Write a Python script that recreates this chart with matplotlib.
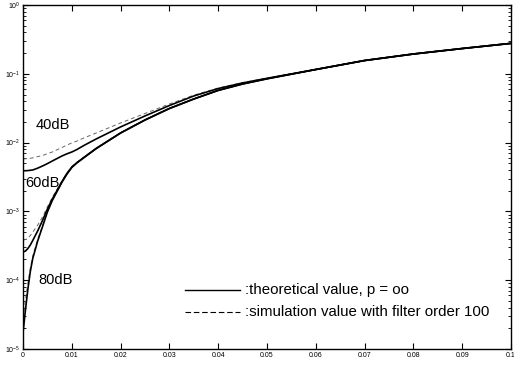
import matplotlib
matplotlib.use("Agg")
import matplotlib.pyplot as plt
import numpy as np
from matplotlib.ticker import LogLocator, FixedLocator, NullFormatter

# x grid (shared by all curves)
x = [0, 0.0005, 0.001, 0.0015, 0.002, 0.003, 0.004, 0.005, 0.006, 0.008, 0.009,
     0.01, 0.011, 0.0125, 0.015, 0.02, 0.025, 0.03, 0.035, 0.04, 0.045, 0.05,
     0.06, 0.07, 0.08, 0.09, 0.1]

# common tail (x >= 0.06)
tail = [0.1155, 0.156, 0.194, 0.233, 0.277]

theo_40 = [3.9e-3, 3.9e-3, 3.92e-3, 3.96e-3, 4.0e-3, 4.25e-3, 4.57e-3, 4.95e-3, 5.4e-3, 6.4e-3, 6.87e-3,
           7.3e-3, 7.9e-3, 9.1e-3, 1.13e-2, 1.69e-2, 2.44e-2, 3.46e-2, 4.76e-2, 6.11e-2, 7.36e-2, 8.6e-2] + tail
sim_40 = [5.8e-3, 5.82e-3, 5.86e-3, 5.92e-3, 6.0e-3, 6.25e-3, 6.5e-3, 6.9e-3, 7.3e-3, 8.5e-3, 9.2e-3,
          9.9e-3, 1.05e-2, 1.17e-2, 1.38e-2, 1.93e-2, 2.65e-2, 3.64e-2, 4.9e-2, 6.2e-2, 7.45e-2, 8.65e-2] + tail
theo_60 = [2.57e-4, 2.65e-4, 2.89e-4, 3.25e-4, 3.78e-4, 5.19e-4, 7.38e-4, 1.08e-3, 1.51e-3, 2.72e-3, 3.55e-3,
           4.4e-3, 5.08e-3, 6.07e-3, 8.2e-3, 1.38e-2, 2.13e-2, 3.13e-2, 4.3e-2, 5.74e-2, 7.11e-2, 8.46e-2] + tail
sim_60 = [3.84e-4, 3.9e-4, 4.1e-4, 4.46e-4, 5.0e-4, 6.3e-4, 8.3e-4, 1.16e-3, 1.6e-3, 2.8e-3, 3.62e-3,
          4.5e-3, 5.15e-3, 6.2e-3, 8.35e-3, 1.4e-2, 2.16e-2, 3.17e-2, 4.35e-2, 5.8e-2, 7.15e-2, 8.5e-2] + tail
theo_80 = [1.71e-5, 3.69e-5, 7.4e-5, 1.34e-4, 2.07e-4, 3.7e-4, 6.0e-4, 9.8e-4, 1.44e-3, 2.67e-3, 3.48e-3,
           4.35e-3, 5.03e-3, 6.07e-3, 8.2e-3, 1.38e-2, 2.13e-2, 3.13e-2, 4.3e-2, 5.74e-2, 7.11e-2, 8.46e-2] + tail
sim_80 = [2.8e-5, 5.2e-5, 9.0e-5, 1.5e-4, 2.25e-4, 3.9e-4, 6.2e-4, 1.0e-3, 1.46e-3, 2.7e-3, 3.55e-3,
          4.4e-3, 5.1e-3, 6.15e-3, 8.3e-3, 1.39e-2, 2.15e-2, 3.15e-2, 4.33e-2, 5.77e-2, 7.13e-2, 8.48e-2] + tail

x_ticks = [0, 0.01, 0.02, 0.03, 0.04, 0.05, 0.06, 0.07, 0.08, 0.09, 0.1]
x_labels = ["0", "0.01", "0.02", "0.03", "0.04", "0.05", "0.06", "0.07", "0.08", "0.09", "0.1"]

curve_labels = ["40dB", "60dB", "80dB"]
label_pos = [(0.0062, 0.018), (0.0039, 2.6e-3), (0.0066, 1.0e-4)]

legend_texts = [":theoretical value, p = oo", ":simulation value with filter order 100"]

plt.rcParams['font.family'] = ['Liberation Sans', 'DejaVu Sans']
plt.rcParams['mathtext.fontset'] = 'custom'
plt.rcParams['mathtext.rm'] = 'Liberation Sans'
plt.rcParams['mathtext.it'] = 'Liberation Sans'

fig = plt.figure(figsize=(5.14, 3.66), dpi=100)
ax = fig.add_axes([23/514, 17/366, 488/514, 344/366])

for s in (sim_40, sim_60, sim_80):
    ax.plot(x, s, color='#666666', lw=0.7, ls=(0, (4, 3)))
for t in (theo_40, theo_60, theo_80):
    ax.plot(x, t, color='black', lw=1.2)

ax.set_yscale('log')
ax.set_xlim(0, 0.1)
ax.set_ylim(1e-5, 1)

ax.xaxis.set_major_locator(FixedLocator(x_ticks))
ax.set_xticklabels(x_labels)
ax.yaxis.set_major_locator(LogLocator(base=10, numticks=10))
ax.yaxis.set_minor_locator(LogLocator(base=10, subs=np.arange(2, 10), numticks=20))
ax.yaxis.set_minor_formatter(NullFormatter())

ax.tick_params(axis='both', which='major', direction='in', length=4, width=0.8,
               labelsize=5, top=True, right=True, pad=2)
ax.tick_params(axis='both', which='minor', direction='in', length=2, width=0.6,
               top=True, right=True)
for sp in ax.spines.values():
    sp.set_linewidth(1.0)

for lab, (px, py) in zip(curve_labels, label_pos):
    ax.text(px, py, lab, fontsize=10.5, ha='center', va='center')

# legend drawn manually
ax.plot([0.332, 0.445], [0.1715, 0.1715], transform=ax.transAxes, color='black', lw=1.0)
ax.plot([0.332, 0.445], [0.1076, 0.1076], transform=ax.transAxes, color='black', lw=0.8,
        ls=(0, (5, 2.5)))
ax.text(0.455, 0.1715, legend_texts[0], transform=ax.transAxes, fontsize=10.8, va='center')
ax.text(0.455, 0.1076, legend_texts[1], transform=ax.transAxes, fontsize=10.8, va='center')

fig.savefig("out.png", dpi=100)
